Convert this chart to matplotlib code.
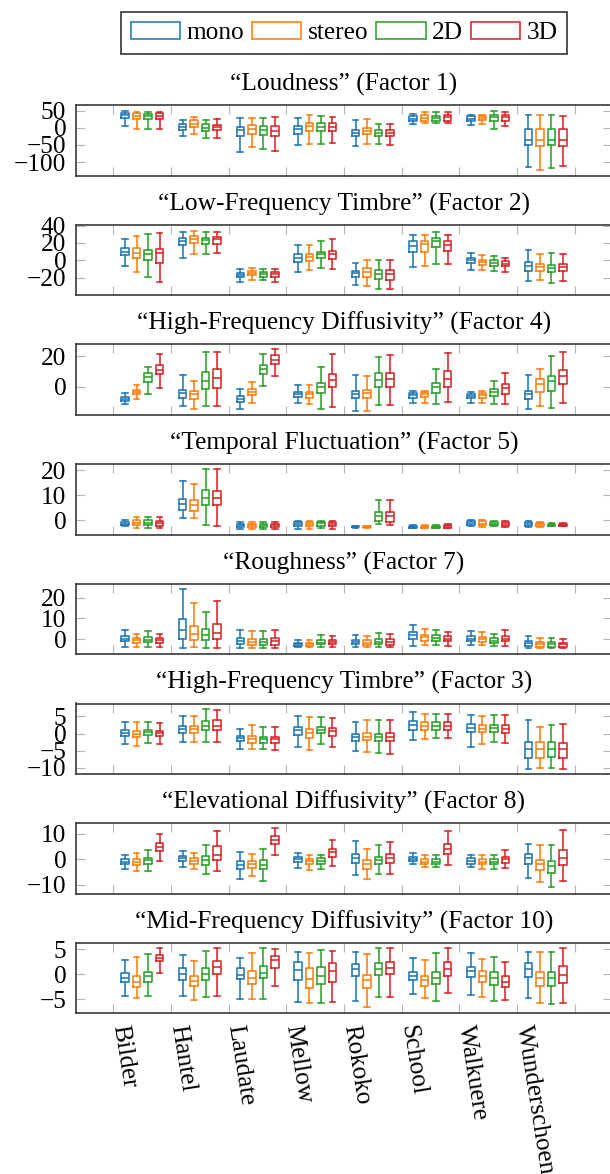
import matplotlib
matplotlib.use("Agg")
import matplotlib.pyplot as plt
from matplotlib.patches import Patch

plt.rcParams['font.family'] = ['Liberation Serif', 'DejaVu Serif']
plt.rcParams['axes.unicode_minus'] = True

categories = ["Bilder", "Hantel", "Laudate", "Mellow", "Rokoko", "School", "Walkuere", "Wunderschoen"]
series = ["mono", "stereo", "2D", "3D"]
colors = ["#1f77b4", "#ff7f0e", "#2ca02c", "#d62728"]

titles = [
    "\u201cLoudness\u201d (Factor 1)",
    "\u201cLow-Frequency Timbre\u201d (Factor 2)",
    "\u201cHigh-Frequency Diffusivity\u201d (Factor 4)",
    "\u201cTemporal Fluctuation\u201d (Factor 5)",
    "\u201cRoughness\u201d (Factor 7)",
    "\u201cHigh-Frequency Timbre\u201d (Factor 3)",
    "\u201cElevational Diffusivity\u201d (Factor 8)",
    "\u201cMid-Frequency Diffusivity\u201d (Factor 10)",
]

# each entry: per category, per series (whisker low, q1, median, q3, whisker high)
loudness = [
    [(5, 29, 36, 43, 50), (-4, 25, 34, 42, 45), (-3, 26, 34, 40, 47), (-5, 25, 34, 42, 46)],
    [(-25, -6, 2, 10, 23), (-17, 2, 12, 21, 31), (-31, -10, 0, 10, 23), (-30, -8, 1, 8, 24)],
    [(-72, -24, -8, 2, 29), (-56, -17, -3, 8, 27), (-62, -22, -8, 4, 28), (-67, -24, -10, 6, 31)],
    [(-51, -17, -4, 4, 28), (-48, -10, 4, 15, 37), (-48, -10, 2, 13, 33), (-44, -10, 3, 13, 31)],
    [(-54, -24, -14, -6, 23), (-46, -19, -10, -2, 26), (-48, -24, -15, -8, 12), (-49, -25, -15, -8, 10)],
    [(10, 19, 26, 33, 40), (13, 19, 29, 36, 47), (13, 19, 29, 35, 45), (13, 19, 30, 37, 45)],
    [(7, 19, 26, 33, 38), (12, 21, 28, 33, 37), (-3, 19, 31, 37, 50), (4, 19, 31, 38, 47)],
    [(-115, -51, -35, -3, 37), (-123, -52, -35, -3, 36), (-117, -51, -35, -3, 36), (-111, -52, -35, -3, 34)],
]
lf_timbre = [
    [(-6, 6, 10, 14, 25), (-13, 3, 9, 14, 28), (-19, 0, 7, 12, 30), (-25, -3, 9, 13, 31)],
    [(3, 18, 22, 26, 33), (7, 20, 24, 28, 34), (7, 19, 23, 26, 33), (8, 19, 24, 27, 33)],
    [(-25, -19, -17, -14, -10), (-22, -17, -14, -12, -9), (-23, -19, -16, -13, -10), (-25, -19, -16, -13, -10)],
    [(-13, -2, 3, 7, 18), (-11, -1, 4, 7, 18), (-9, 3, 7, 10, 22), (-10, 2, 7, 11, 24)],
    [(-28, -19, -15, -12, -3), (-30, -19, -13, -9, 0), (-33, -21, -16, -11, 0), (-33, -22, -16, -11, 0)],
    [(-8, 10, 17, 22, 29), (-6, 10, 19, 22, 29), (-4, 15, 22, 26, 33), (-4, 11, 18, 22, 29)],
    [(-11, -3, 0, 3, 9), (-11, -5, -2, 1, 6), (-12, -6, -3, 0, 5), (-13, -6, -4, -1, 3)],
    [(-24, -12, -7, -2, 12), (-22, -12, -8, -4, 7), (-26, -13, -9, -5, 9), (-24, -12, -8, -4, 7)],
]
hf_diffusivity = [
    [(-11.6, -9.3, -8.0, -6.7, -4.2), (-8.0, -4.9, -3.3, -2.2, 1.3), (-4.9, 2.9, 6.2, 8.9, 12.9), (-0.9, 8.0, 11.1, 14.0, 21.3)],
    [(-12.7, -7.1, -4.2, -2.2, 7.8), (-14.9, -8.2, -4.9, -3.1, 3.6), (-12.7, -1.6, 3.6, 9.6, 22.9), (-12.7, -0.9, 5.8, 11.3, 22.9)],
    [(-14.9, -10.0, -8.2, -6.4, -1.6), (-10.4, -5.3, -3.3, -1.8, 2.9), (0.2, 8.4, 11.3, 14.0, 21.3), (7.3, 14.7, 17.8, 20.7, 24.4)],
    [(-10.4, -6.7, -4.9, -3.3, 1.1), (-11.6, -7.1, -4.9, -3.3, 1.3), (-14.4, -4.2, -0.4, 2.2, 12.9), (-13.3, -0.4, 4.4, 8.4, 21.1)],
    [(-16.0, -7.6, -4.9, -2.7, 7.8), (-16.0, -7.6, -4.4, -2.2, 7.3), (-12.2, -0.4, 4.4, 9.1, 19.6), (-12.2, -0.4, 4.7, 9.1, 20.7)],
    [(-10.4, -7.1, -5.6, -4.2, -2.7), (-10.4, -6.7, -4.9, -3.8, -2.7), (-11.6, -4.2, -0.4, 2.4, 11.8), (-9.8, -0.4, 5.1, 10.2, 21.8)],
    [(-10.9, -7.6, -6.2, -4.9, -3.8), (-10.4, -7.1, -5.6, -4.2, -2.7), (-11.6, -6.0, -3.8, -1.6, 4.0), (-11.6, -4.9, -1.1, 1.8, 8.9)],
    [(-14.9, -8.2, -4.9, -2.7, 7.8), (-12.7, -3.8, 1.8, 5.1, 11.8), (-14.2, -2.7, 3.6, 7.3, 20.2), (-10.4, 1.8, 6.7, 10.7, 22.9)],
]
temporal = [
    [(-2.4, -2.0, -1.3, -0.7, 0.0), (-2.9, -2.0, -0.9, 0.0, 1.3), (-2.9, -2.0, -0.9, 0.0, 1.3), (-2.9, -2.1, -1.1, -0.3, 1.3)],
    [(0.9, 4.0, 6.3, 8.4, 15.6), (1.1, 3.7, 6.0, 8.0, 14.4), (-2.0, 6.0, 8.7, 12.0, 20.4), (-2.4, 6.0, 8.7, 11.7, 20.4)],
    [(-3.3, -2.7, -2.0, -1.3, -0.7), (-3.3, -2.7, -2.0, -1.3, -0.7), (-3.3, -2.7, -2.0, -1.3, -0.7), (-3.3, -2.7, -2.0, -1.3, -0.7)],
    [(-3.6, -2.3, -1.3, -0.7, -0.3), (-3.6, -2.3, -1.3, -0.7, -0.3), (-3.0, -2.1, -1.2, -0.7, -0.3), (-3.6, -2.3, -1.3, -0.7, -0.3)],
    [(-2.9, -2.8, -2.5, -2.3, -2.1), (-2.9, -2.8, -2.5, -2.3, -2.1), (-1.6, -0.3, 1.6, 3.3, 8.0), (-1.7, -0.7, 1.6, 3.3, 8.0)],
    [(-3.2, -2.9, -2.5, -2.1, -1.7), (-3.2, -2.9, -2.5, -2.1, -1.7), (-3.2, -2.9, -2.5, -2.1, -1.7), (-3.2, -2.9, -2.4, -2.0, -1.3)],
    [(-2.4, -2.0, -1.2, -0.4, 0.0), (-2.7, -2.0, -1.3, -0.4, 0.0), (-2.4, -2.0, -1.3, -0.7, -0.3), (-2.7, -2.1, -1.3, -0.7, -0.3)],
    [(-2.7, -2.3, -1.5, -0.8, -0.4), (-2.7, -2.3, -1.6, -1.1, -0.7), (-2.4, -2.3, -1.7, -1.3, -1.1), (-2.4, -2.3, -1.7, -1.3, -1.1)],
]
roughness = [
    [(-3.6, -0.9, 0.3, 1.4, 4.6), (-3.9, -1.7, -0.5, 0.6, 2.7), (-3.9, -1.4, -0.2, 1.1, 3.9), (-3.9, -1.7, -0.5, 0.6, 2.7)],
    [(-4.4, 0.3, 4.3, 9.8, 23.9), (-3.9, -0.5, 2.4, 6.6, 17.6), (-4.4, -0.5, 1.9, 5.0, 12.9), (-4.4, 0.3, 3.0, 7.4, 18.4)],
    [(-4.4, -2.5, -0.9, 0.6, 4.3), (-4.4, -2.8, -1.3, 0.3, 3.9), (-4.4, -2.8, -1.3, 0.3, 3.9), (-4.4, -2.8, -0.9, 0.6, 4.3)],
    [(-3.9, -3.3, -2.5, -1.7, -0.2), (-3.9, -3.3, -2.5, -1.7, -0.2), (-3.6, -2.5, -1.6, -0.5, 2.2), (-3.6, -2.5, -1.3, -0.5, 1.4)],
    [(-3.6, -2.4, -1.3, -0.2, 2.2), (-3.9, -2.8, -1.6, -0.5, 1.6), (-3.9, -2.5, -1.3, 0.0, 3.0), (-3.9, -2.8, -1.3, 0.0, 2.7)],
    [(-3.3, 0.0, 1.9, 3.5, 6.9), (-2.8, -0.8, 1.1, 2.2, 4.7), (-2.8, -0.8, 0.6, 1.9, 4.3), (-3.3, -0.9, 0.3, 1.4, 3.5)],
    [(-2.8, -0.8, 0.3, 1.4, 3.9), (-2.8, -1.3, 0.0, 1.1, 3.5), (-3.3, -2.0, -0.8, 0.6, 2.7), (-3.3, -0.9, 0.3, 1.4, 4.3)],
    [(-4.4, -3.1, -2.0, -0.8, 1.6), (-4.4, -3.6, -2.4, -1.3, 0.6), (-4.4, -3.6, -2.4, -1.3, 0.6), (-4.4, -3.6, -2.5, -1.6, 0.3)],
]
hf_timbre = [
    [(-3.2, -0.8, 0.1, 0.9, 3.5), (-3.6, -0.9, -0.1, 0.7, 3.3), (-2.8, -0.4, 0.4, 1.1, 3.5), (-3.2, -0.8, 0.1, 0.7, 3.0)],
    [(-2.5, 0.1, 1.2, 2.2, 5.2), (-2.5, 0.1, 1.3, 2.2, 5.2), (-2.5, 0.9, 2.3, 3.6, 7.1), (-2.5, 0.9, 2.3, 3.8, 6.8)],
    [(-4.6, -2.2, -1.3, -0.6, 1.3), (-4.6, -2.7, -1.7, -0.6, 2.6), (-4.6, -2.7, -1.7, -0.9, 1.8), (-4.9, -2.8, -1.7, -0.9, 2.0)],
    [(-3.9, -0.4, 0.9, 2.0, 5.2), (-4.7, -1.3, 0.1, 1.3, 4.7), (-3.2, 0.1, 1.1, 2.0, 4.7), (-3.9, -0.6, 0.6, 1.6, 4.4)],
    [(-5.2, -2.2, -1.1, -0.1, 3.3), (-5.4, -2.0, -0.9, 0.1, 3.9), (-5.7, -2.2, -1.1, -0.1, 3.8), (-5.9, -2.3, -1.1, 0.1, 3.9)],
    [(-1.8, 1.1, 2.5, 3.6, 6.4), (-1.5, 1.1, 2.3, 3.3, 5.7), (-1.3, 1.1, 2.3, 3.3, 5.7), (-1.3, 1.1, 2.3, 3.3, 5.7)],
    [(-3.8, 0.4, 1.6, 2.8, 5.4), (-3.2, 0.4, 1.3, 2.5, 5.2), (-2.5, 0.4, 1.5, 2.5, 5.4), (-2.8, 0.2, 1.3, 2.5, 5.4)],
    [(-10.2, -7.0, -4.4, -2.5, 3.8), (-10.0, -7.0, -4.6, -2.5, 2.0), (-10.0, -6.8, -4.6, -2.5, 2.5), (-10.2, -7.0, -4.6, -2.7, 2.8)],
]
elevational = [
    [(-4.0, -1.9, -1.0, -0.1, 1.5), (-4.6, -2.3, -1.0, 0.0, 2.5), (-4.5, -1.7, -0.4, 0.5, 3.5), (-0.6, 3.2, 4.8, 6.3, 9.9)],
    [(-3.0, -0.8, 0.3, 1.2, 3.2), (-4.0, -1.9, -0.8, 0.3, 2.5), (-5.9, -2.1, -0.4, 1.2, 5.4), (-4.6, -0.4, 1.8, 5.0, 11.2)],
    [(-7.7, -3.9, -2.3, -0.8, 2.8), (-6.6, -3.4, -1.9, -0.6, 2.2), (-8.4, -3.9, -2.3, -0.4, 4.1), (1.8, 6.1, 7.6, 9.0, 12.3)],
    [(-3.6, -1.0, 0.0, 0.9, 2.5), (-4.3, -1.9, -0.8, 0.0, 1.8), (-4.0, -1.7, -0.6, 0.3, 1.8), (-2.7, 0.9, 2.8, 4.1, 7.4)],
    [(-6.2, -1.3, 0.6, 2.2, 7.0), (-7.9, -3.9, -1.9, -0.4, 3.9), (-5.9, -1.9, -0.4, 0.9, 5.4), (-5.8, -1.4, 0.5, 1.9, 6.7)],
    [(-1.9, -0.8, 0.0, 0.9, 2.5), (-3.2, -1.9, -1.0, 0.0, 1.5), (-3.2, -1.9, -1.0, 0.0, 1.5), (-2.3, 2.2, 4.1, 6.1, 11.2)],
    [(-3.2, -1.7, -0.6, 0.3, 1.8), (-3.9, -1.9, -1.0, -0.1, 1.5), (-3.9, -1.9, -1.0, -0.1, 1.5), (-3.6, -1.4, 0.0, 0.9, 3.5)],
    [(-7.5, -1.7, 0.5, 2.2, 6.1), (-8.8, -4.3, -1.9, -0.4, 5.4), (-11.0, -5.3, -2.6, -0.6, 5.4), (-8.4, -2.3, 0.5, 3.5, 11.5)],
]
mf_diffusivity = [
    [(-4.3, -1.6, -0.7, 0.2, 2.9), (-4.8, -2.5, -1.5, -0.3, 3.4), (-4.3, -1.5, -0.3, 0.5, 4.0), (0.3, 2.7, 3.3, 3.9, 5.3)],
    [(-4.3, -1.1, 0.0, 1.2, 3.9), (-5.1, -2.3, -1.3, -0.3, 2.7), (-4.6, -1.1, 0.1, 1.3, 4.7), (-4.3, 0.0, 1.5, 2.7, 5.3)],
    [(-4.9, -1.0, -0.1, 1.3, 3.2), (-5.0, -1.9, -0.7, 0.7, 4.3), (-4.9, -0.8, 0.3, 1.7, 5.2), (-2.3, 1.3, 2.9, 3.7, 5.1)],
    [(-5.5, -1.1, 0.9, 2.5, 4.4), (-5.8, -2.8, -0.9, 1.3, 4.2), (-5.8, -2.0, -0.3, 1.5, 4.9), (-5.5, -1.5, 0.7, 2.3, 4.7)],
    [(-5.3, -0.3, 1.1, 2.0, 4.4), (-6.5, -2.8, -1.1, -0.1, 4.1), (-4.5, -0.1, 1.1, 2.2, 5.2), (-4.5, 0.0, 1.2, 2.4, 5.3)],
    [(-4.0, -1.1, -0.3, 0.5, 3.3), (-4.8, -2.3, -1.1, -0.3, 2.9), (-5.3, -1.9, -0.7, 0.5, 4.3), (-3.8, -0.3, 1.1, 2.5, 5.3)],
    [(-4.1, -0.5, 0.7, 1.5, 4.2), (-4.5, -1.5, -0.3, 0.7, 3.0), (-5.3, -2.1, -0.8, 0.5, 3.5), (-5.1, -2.5, -1.5, -0.3, 2.5)],
    [(-4.8, -0.5, 1.0, 2.2, 4.4), (-5.7, -2.3, -0.8, 0.5, 4.4), (-6.0, -2.3, -0.8, 0.5, 4.4), (-5.7, -1.8, -0.1, 1.7, 5.3)],
]
panels = [loudness, lf_timbre, hf_diffusivity, temporal, roughness, hf_timbre, elevational, mf_diffusivity]

ylims = [(-139, 66), (-40, 41), (-18.5, 27.7), (-5.7, 22.4), (-7.2, 26.6), (-11.8, 8.75), (-13.5, 14.1), (-7.8, 6.3)]
yticks = [[-100, -50, 0, 50], [-20, 0, 20, 40], [0, 20], [0, 10, 20], [0, 10, 20],
          [-10, -5, 0, 5], [-10, 0, 10], [-5, 0, 5]]

W, H = 610, 1174
fig = plt.figure(figsize=(W / 100, H / 100), dpi=100)

FS = 18.3
spine_col = "#3a3a3a"
tick_col = "#b5b5b5"
lw = 1.15
left_px, right_px = 76, 612
ax_h = 70.5
tops = [105 + 119.7 * i for i in range(8)]
offsets = [0.2, 0.4, 0.6, 0.8]

for i, data in enumerate(panels):
    top = tops[i]
    ax = fig.add_axes([left_px / W, 1 - (top + ax_h) / H, (right_px - left_px) / W, ax_h / H])
    for s, col in enumerate(colors):
        stats = []
        pos = []
        for c in range(len(categories)):
            lo, q1, med, q3, hi = data[c][s]
            stats.append(dict(whislo=lo, q1=q1, med=med, q3=q3, whishi=hi, fliers=[]))
            pos.append(c + 1 + offsets[s])
        ax.bxp(stats, positions=pos, widths=0.13, capwidths=0.1, showfliers=False,
               boxprops=dict(color=col, linewidth=lw),
               medianprops=dict(color=col, linewidth=lw),
               whiskerprops=dict(color=col, linewidth=lw),
               capprops=dict(color=col, linewidth=lw),
               manage_ticks=False)
    ax.set_xlim(0.35, 9.65)
    ax.set_ylim(*ylims[i])
    ax.set_yticks(yticks[i])
    ax.set_xticks(range(1, 10))
    if i == len(panels) - 1:
        ax.set_xticklabels(categories + [""])
        for lab in ax.get_xticklabels():
            lab.set_rotation(-81)
            lab.set_rotation_mode("anchor")
            lab.set_ha("left")
            lab.set_va("baseline")
    else:
        ax.set_xticklabels([])
    ax.tick_params(axis="both", direction="in", length=6.5, width=0.8, color=tick_col,
                   top=True, right=True, labelsize=FS, labelcolor="black")
    ax.tick_params(axis="y", pad=7)
    ax.tick_params(axis="x", pad=9)
    for sp in ax.spines.values():
        sp.set_color(spine_col)
        sp.set_linewidth(1.2)
    ax.set_title(titles[i], fontsize=FS, pad=10.5)

handles = [Patch(facecolor="white", edgecolor=c, linewidth=lw) for c in colors]
leg = fig.legend(handles, series, loc="center", bbox_to_anchor=(344 / W, 1 - 33 / H), ncol=4,
                 fontsize=FS, frameon=True, fancybox=False, edgecolor="black",
                 handlelength=1.95, handleheight=0.68, handletextpad=0.25, columnspacing=0.3,
                 borderpad=0.38, borderaxespad=0)
leg.get_frame().set_linewidth(1.2)

fig.savefig("out.png", dpi=100)
